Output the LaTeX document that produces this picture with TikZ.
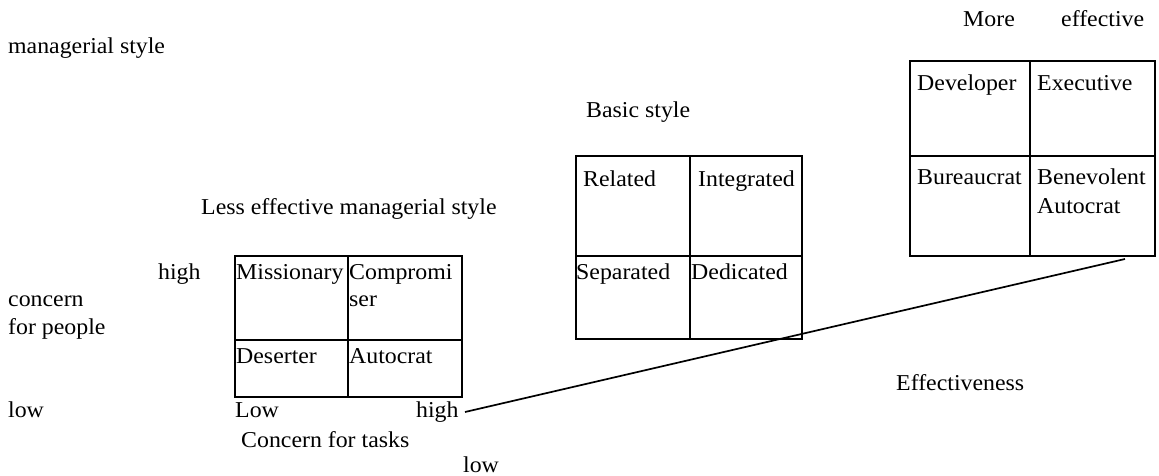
\documentclass[tikz,border=0pt]{standalone}
\usepackage{fontspec}
\setmainfont{Liberation Serif}[FakeStretch=1.05]
\begin{document}
\begin{tikzpicture}[x=1pt,y=-1pt,
  lbl/.style={anchor=base west, inner sep=0pt, font=\fontsize{22.7}{28}\selectfont},
  gridbox/.style={draw, line width=2pt, anchor=north west, inner sep=0pt, outer sep=0pt},
  gridline/.style={line width=2pt},
  conn/.style={line width=1.7pt}]
\useasboundingbox (0,0) rectangle (1159,476);
% headings and axis labels
\node[lbl] (mstyle) at (8,54) {managerial style};
\node[lbl] (more) at (963,27) {More};
\node[lbl] (eff) at (1061,27) {effective};
\node[lbl] (basic) at (586,118) {Basic style};
\node[lbl] (less) at (201,214) {Less effective managerial style};
\node[lbl] (highL) at (158,279) {high};
\node[lbl] (concern) at (8,306) {concern};
\node[lbl] (forpeople) at (8,334) {for people};
\node[lbl] (lowL) at (8,417) {low};
\node[lbl] (Low) at (235,417) {Low};
\node[lbl] (highR) at (416,417) {high};
\node[lbl] (ctasks) at (241,447) {Concern for tasks};
\node[lbl] (lowB) at (463,472) {low};
\node[lbl] (effness) at (896,390) {Effectiveness};
% left grid
\node[gridbox, minimum width=227pt, minimum height=141pt] (lgrid) at (235,256) {};
\draw[gridline] (348,256) -- (348,397);
\draw[gridline] (235,340) -- (462,340);
\node[lbl] (missionary) at (236,279) {Missionary};
\node[lbl] (compromi) at (349,279) {Compromi};
\node[lbl] (ser) at (349,306) {ser};
\node[lbl] (deserter) at (236,363) {Deserter};
\node[lbl] (autocrat) at (349,363) {Autocrat};
% middle grid
\node[gridbox, minimum width=226pt, minimum height=183pt] (mgrid) at (576,156) {};
\draw[gridline] (690,156) -- (690,339);
\draw[gridline] (576,256) -- (802,256);
\node[lbl] (related) at (583,186) {Related};
\node[lbl] (integrated) at (698,186) {Integrated};
\node[lbl] (separated) at (576,279) {Separated};
\node[lbl] (dedicated) at (691,279) {Dedicated};
% right grid
\node[gridbox, minimum width=245pt, minimum height=195pt] (rgrid) at (910,61) {};
\draw[gridline] (1030,61) -- (1030,256);
\draw[gridline] (910,156) -- (1155,156);
\node[lbl] (developer) at (917,91) {Developer};
\node[lbl] (executive) at (1037,91) {Executive};
\node[lbl] (bureaucrat) at (917,184) {Bureaucrat};
\node[lbl] (benevolent) at (1037,184) {Benevolent};
\node[lbl] (bautocrat) at (1037,213) {Autocrat};
% connector
\coordinate (lstart) at (465,412);
\coordinate (lend) at (1125,259);
\draw[conn] (lstart) -- (lend);
\end{tikzpicture}
\end{document}
